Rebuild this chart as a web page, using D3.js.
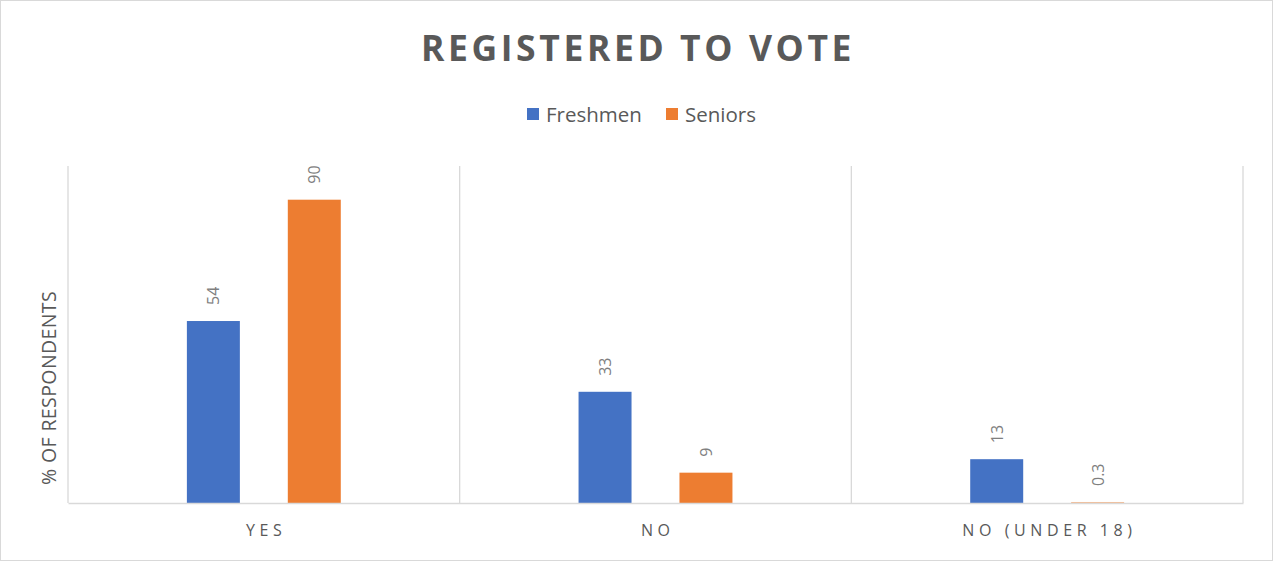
<!DOCTYPE html>
<html>
<head>
<meta charset="utf-8">
<script src="https://cdn.jsdelivr.net/npm/d3@7"></script>
<style>
html,body{margin:0;padding:0;background:#fff;}
svg text{font-family:"Open Sans","Liberation Sans",sans-serif;}
</style>
</head>
<body>
<svg id="chart" width="1273" height="561"></svg>
<script>
const categories = ["YES", "NO", "NO (UNDER 18)"];
const seriesNames = ["Freshmen", "Seniors"];
const freshmen = [54, 33, 13];
const seniors = [90, 9, 0.3];
const labelText = [["54","33","13"],["90","9","0.3"]];
const colors = ["#4472C4", "#ED7D31"];
const yDomain = [0, 100];

const svg = d3.select("#chart");
const W = 1273, H = 561;
const m = {left: 68, right: 30, top: 166, bottom: 58};
const pw = W - m.left - m.right, ph = H - m.top - m.bottom;

svg.append("rect").attr("x",0.5).attr("y",0.5).attr("width",W-1).attr("height",H-1)
  .attr("fill","#fff").attr("stroke","#d9d9d9");

const g = svg.append("g").attr("transform",`translate(${m.left},${m.top})`);

const x0 = d3.scaleBand().domain(categories).range([0,pw]).padding(0);
const x1 = d3.scaleBand().domain(seriesNames).range([0,x0.bandwidth()])
  .paddingInner(0.475).paddingOuter(1.178);
const y = d3.scaleLinear().domain(yDomain).range([ph,0]);

// category separator gridlines
const seps = categories.map(c => x0(c)).concat([x0.range()[1]]);
g.selectAll("line.sep").data(seps).enter().append("line")
  .attr("x1",d=>d).attr("x2",d=>d).attr("y1",0).attr("y2",ph)
  .attr("stroke","#d9d9d9").attr("stroke-width",1.3);

const data = categories.map((c,i)=>({cat:c, vals:[freshmen[i], seniors[i]]}));

const grp = g.selectAll("g.cat").data(data).enter().append("g")
  .attr("transform",d=>`translate(${x0(d.cat)},0)`);

grp.selectAll("rect").data((d)=>d.vals.map((v,k)=>({s:seriesNames[k],v,k}))).enter()
  .append("rect")
  .attr("x",d=>x1(d.s)).attr("width",x1.bandwidth())
  .attr("y",d=>y(d.v)).attr("height",d=>Math.max(ph-y(d.v),0))
  .attr("fill",d=>colors[d.k]).attr("opacity",d=>d.v<1?0.55:1);

grp.selectAll("text.lbl").data((d,i)=>d.vals.map((v,k)=>({s:seriesNames[k],v,k,t:labelText[k][i]}))).enter()
  .append("text")
  .attr("transform",d=>`translate(${x1(d.s)+x1.bandwidth()/2},${y(d.v)-16}) rotate(-90)`)
  .attr("text-anchor","start").attr("dominant-baseline","central")
  .attr("fill","#7f7f7f").attr("font-size",16)
  .text(d=>d.t);

// x axis
const xAxis = g.append("g").attr("transform",`translate(0,${ph})`)
  .call(d3.axisBottom(x0).tickSize(0).tickPadding(22));
xAxis.select(".domain").attr("stroke","#d9d9d9").attr("stroke-width",1.5);
xAxis.selectAll("text").attr("fill","#595959").attr("font-size",16)
  .attr("letter-spacing","4.6px").attr("dx","2.3px")
  .style("font-family",'"Open Sans","Liberation Sans",sans-serif');

// y axis title
svg.append("text")
  .attr("transform",`translate(48,388) rotate(-90)`)
  .attr("text-anchor","middle").attr("dominant-baseline","central")
  .attr("fill","#595959").attr("font-size",19.5).attr("letter-spacing","0.4px")
  .text("% OF RESPONDENTS");

// title
svg.append("text").attr("x",638).attr("y",47)
  .attr("text-anchor","middle").attr("dominant-baseline","central")
  .attr("fill","#595959").attr("font-size",35.5).attr("font-weight","bold")
  .attr("letter-spacing","3.6px")
  .text("REGISTERED TO VOTE");

// legend
const legendX = [527, 666];
const leg = svg.selectAll("g.leg").data(seriesNames).enter().append("g")
  .attr("transform",(d,i)=>`translate(${legendX[i]},114)`);
leg.append("rect").attr("x",0).attr("y",-6).attr("width",12).attr("height",12)
  .attr("fill",(d,i)=>colors[i]);
leg.append("text").attr("x",19).attr("y",0).attr("dominant-baseline","central")
  .attr("fill","#595959").attr("font-size",20.5).text(d=>d);
</script>
</body>
</html>
